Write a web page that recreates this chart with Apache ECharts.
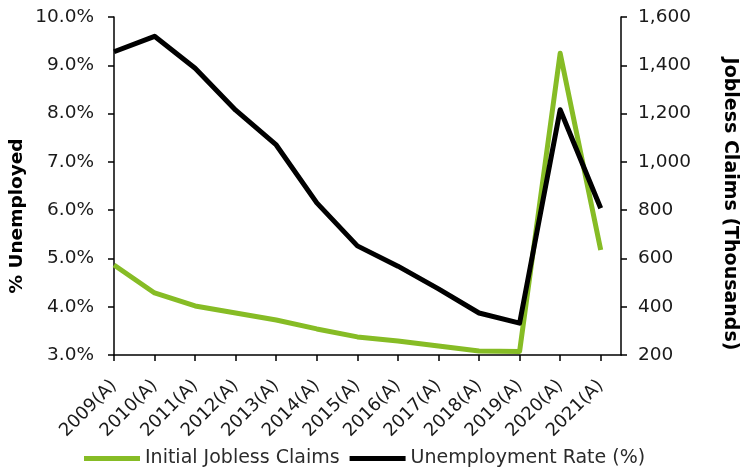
<!DOCTYPE html>
<html><head><meta charset="utf-8">
<script src="https://cdn.jsdelivr.net/npm/echarts@6/dist/echarts.min.js"></script>
<style>html,body{margin:0;padding:0;background:#fff}#c{width:742px;height:469px}</style>
</head><body><div id="c"></div>
<script>
const categories = ['2009(A)','2010(A)','2011(A)','2012(A)','2013(A)','2014(A)','2015(A)','2016(A)','2017(A)','2018(A)','2019(A)','2020(A)','2021(A)'];
const joblessClaims = [573, 457, 403, 374, 345, 308, 275, 258, 237, 217, 215, 1450, 635];
const unemploymentRate = [9.28, 9.6, 8.94, 8.07, 7.35, 6.15, 5.26, 4.84, 4.37, 3.87, 3.66, 8.08, 6.04];
const leftTicks = [3, 10, 1];
const rightTicks = [200, 1600, 200];

const font = 'DejaVu Sans, Verdana, sans-serif';
const txt = '#1a1a1a';
const idx = categories.map((c, i) => i);
const chart = echarts.init(document.getElementById('c'));
chart.setOption({
  animation: false,
  textStyle: { fontFamily: font },
  grid: { left: 114, right: 121, top: 17, bottom: 114, containLabel: false },
  xAxis: {
    type: 'value', min: 0, max: categories.length - 0.5, interval: 1,
    splitLine: { show: false },
    axisLine: { show: true, lineStyle: { color: '#000', width: 1.5 } },
    axisTick: { show: true, length: 6, lineStyle: { color: '#000', width: 1.5 }, customValues: idx },
    axisLabel: { rotate: 45, margin: 28, fontSize: 18, color: txt, fontFamily: font, customValues: idx,
      formatter: v => categories[Math.round(v)] || '' }
  },
  yAxis: [
    { type: 'value', min: leftTicks[0], max: leftTicks[1], interval: leftTicks[2],
      splitLine: { show: false },
      axisLine: { show: true, lineStyle: { color: '#000', width: 1.5 } },
      axisTick: { show: true, length: 6, lineStyle: { color: '#000', width: 1.5 } },
      axisLabel: { fontSize: 18.5, color: txt, margin: 20, fontFamily: font, formatter: v => v.toFixed(1) + '%' } },
    { type: 'value', min: rightTicks[0], max: rightTicks[1], interval: rightTicks[2], position: 'right',
      splitLine: { show: false },
      axisLine: { show: true, lineStyle: { color: '#000', width: 1.5 } },
      axisTick: { show: true, length: 6, lineStyle: { color: '#000', width: 1.5 } },
      axisLabel: { fontSize: 18.5, color: txt, margin: 17, fontFamily: font, formatter: v => v.toLocaleString('en-US') } }
  ],
  legend: {
    top: 449, left: 84, padding: 0, itemWidth: 56, itemHeight: 5, itemGap: 10, icon: 'rect',
    textStyle: { fontSize: 19, color: '#2b2b2b', fontFamily: font },
    data: ['Initial Jobless Claims', 'Unemployment Rate (%)']
  },
  graphic: [
    { type: 'text', x: 17, y: 216, rotation: Math.PI / 2,
      style: { text: '% Unemployed', font: 'bold 18.5px ' + font, fill: '#000', align: 'center', verticalAlign: 'middle' } },
    { type: 'text', x: 730, y: 204, rotation: -Math.PI / 2,
      style: { text: 'Jobless Claims (Thousands)', font: 'bold 19px ' + font, fill: '#000', align: 'center', verticalAlign: 'middle' } }
  ],
  series: [
    { name: 'Initial Jobless Claims', type: 'line', yAxisIndex: 1, showSymbol: false, symbol: 'none',
      lineStyle: { color: '#86BC25', width: 5, join: 'round' }, itemStyle: { color: '#86BC25' },
      data: joblessClaims.map((v, i) => [i, v]) },
    { name: 'Unemployment Rate (%)', type: 'line', yAxisIndex: 0, showSymbol: false, symbol: 'none',
      lineStyle: { color: '#000', width: 5, join: 'round' }, itemStyle: { color: '#000' },
      data: unemploymentRate.map((v, i) => [i, v]) }
  ]
});
</script></body></html>
